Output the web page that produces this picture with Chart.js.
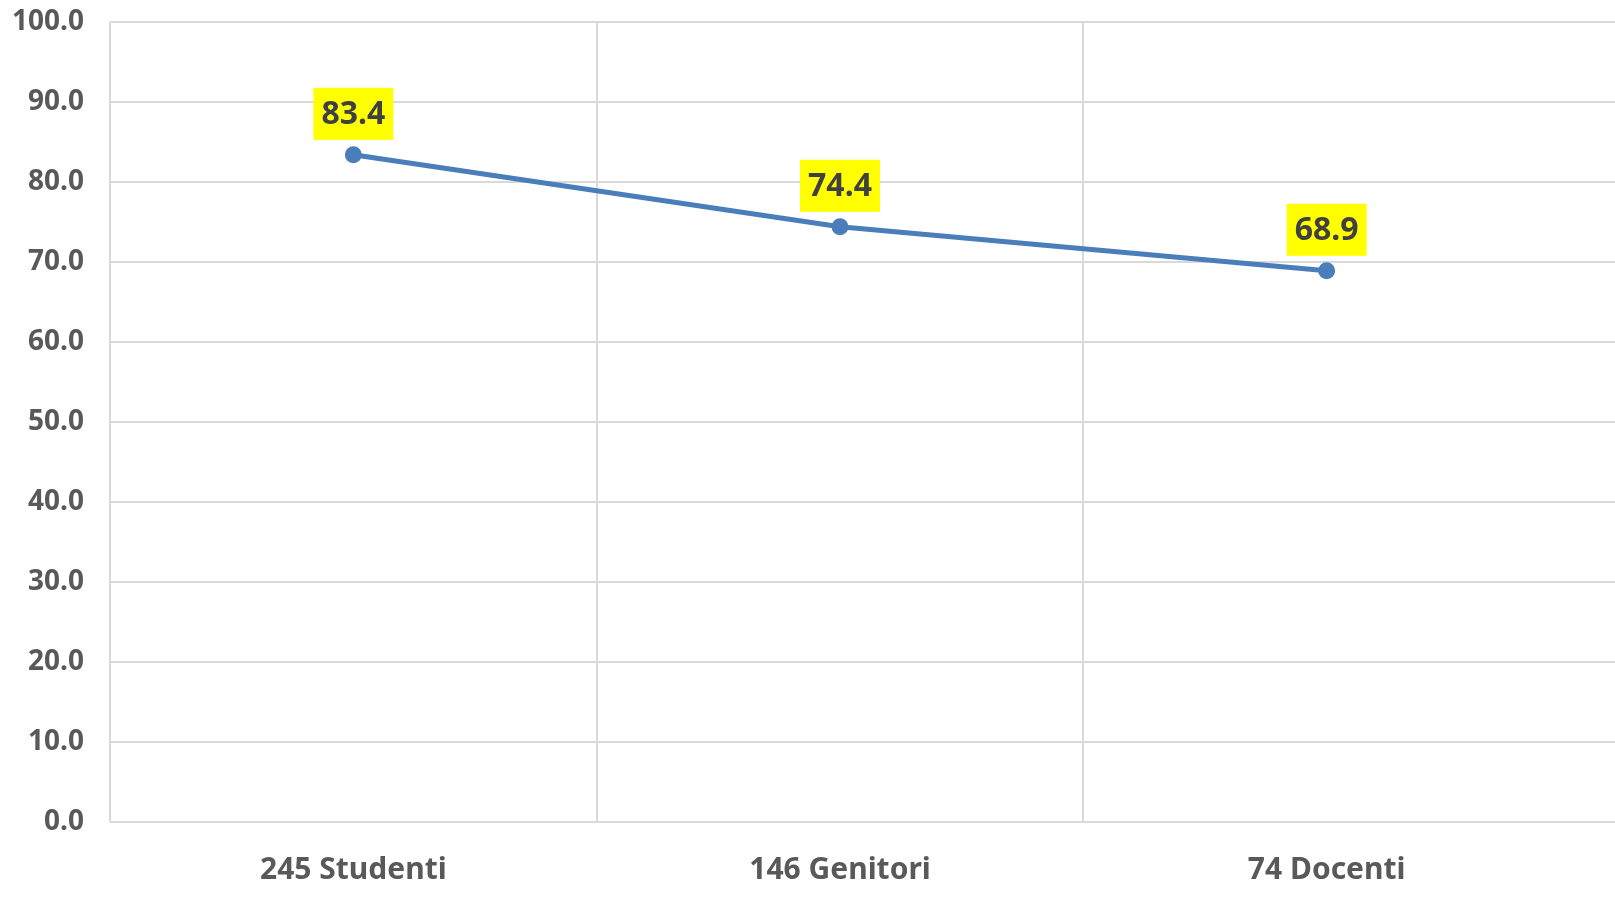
<!DOCTYPE html>
<html>
<head>
<meta charset="utf-8">
<script src="https://cdn.jsdelivr.net/npm/chart.js@4/dist/chart.umd.min.js"></script>
<style>
  html,body{margin:0;padding:0;background:#fff;overflow:hidden;}
  #wrap{width:1615px;height:912px;position:relative;}
</style>
</head>
<body>
<div id="wrap"><canvas id="c"></canvas></div>
<script>
// ===== dati =====
const LABELS = ['245 Studenti','146 Genitori','74 Docenti'];
const VALUES = [83.4, 74.4, 68.9];
const Y_TICKS = [0,10,20,30,40,50,60,70,80,90,100];
const X_GRID = [-0.5,0,0.5,1,1.5,2,2.5];

const C = {line:'#4a7ebb', grid:'#d9d9d9', tick:'#595959', lab:'#404040', hl:'#ffff00'};
const FONT = "'Noto Sans', 'Open Sans', sans-serif";

// etichette gialle sopra i punti
const valueLabels = {
  id:'valueLabels',
  afterDatasetsDraw(chart){
    const ctx = chart.ctx;
    const meta = chart.getDatasetMeta(0);
    ctx.save();
    ctx.font = 'bold 32px ' + FONT;
    ctx.textAlign = 'center';
    ctx.textBaseline = 'middle';
    meta.data.forEach((pt,i)=>{
      const t = VALUES[i].toFixed(1);
      const w = ctx.measureText(t).width + 16;
      const h = 52;
      const cy = pt.y - 41;
      ctx.fillStyle = C.hl;
      ctx.fillRect(pt.x - w/2, cy - h/2, w, h);
      ctx.fillStyle = C.lab;
      ctx.fillText(t, pt.x, cy + 1);
    });
    ctx.restore();
  }
};

new Chart(document.getElementById('c'), {
  type:'line',
  data:{datasets:[{
    data: VALUES.map((v,i)=>({x:i, y:v})),
    borderColor:C.line, backgroundColor:C.line,
    borderWidth:5, pointRadius:6, pointHoverRadius:6, tension:0
  }]},
  options:{
    responsive:true, maintainAspectRatio:false, animation:false,
    layout:{autoPadding:false, padding:{top:22,right:0,bottom:0,left:0}},
    plugins:{legend:{display:false}, tooltip:{enabled:false}},
    scales:{
      x:{
        type:'linear', min:-0.5, max:2.5925,
        afterBuildTicks:s=>{ s.ticks = X_GRID.map(v=>({value:v})); },
        afterFit:s=>{ s.height = 90; s.paddingLeft = 0; s.paddingRight = 0; },
        grid:{drawTicks:false, lineWidth:2,
          color:c=> (c.tick && (Number.isInteger(c.tick.value) || c.tick.value>2)) ? 'rgba(0,0,0,0)' : C.grid},
        border:{display:false},
        ticks:{autoSkip:false, maxRotation:0, padding:30, color:C.tick,
          font:{family:FONT, size:30, weight:'bold'},
          callback:v=> Number.isInteger(v) ? LABELS[v] : ''}
      },
      y:{
        min:0, max:100,
        afterBuildTicks:s=>{ s.ticks = Y_TICKS.map(v=>({value:v})); },
        afterFit:s=>{ s.width = 110; s.paddingTop = 0; s.paddingBottom = 0; },
        grid:{drawTicks:false, lineWidth:2, color:C.grid},
        border:{display:false},
        ticks:{padding:26, color:C.tick, font:{family:FONT, size:28, weight:'bold'},
          callback:v=> Number(v).toFixed(1)}
      }
    }
  },
  plugins:[valueLabels]
});
</script>
</body>
</html>
